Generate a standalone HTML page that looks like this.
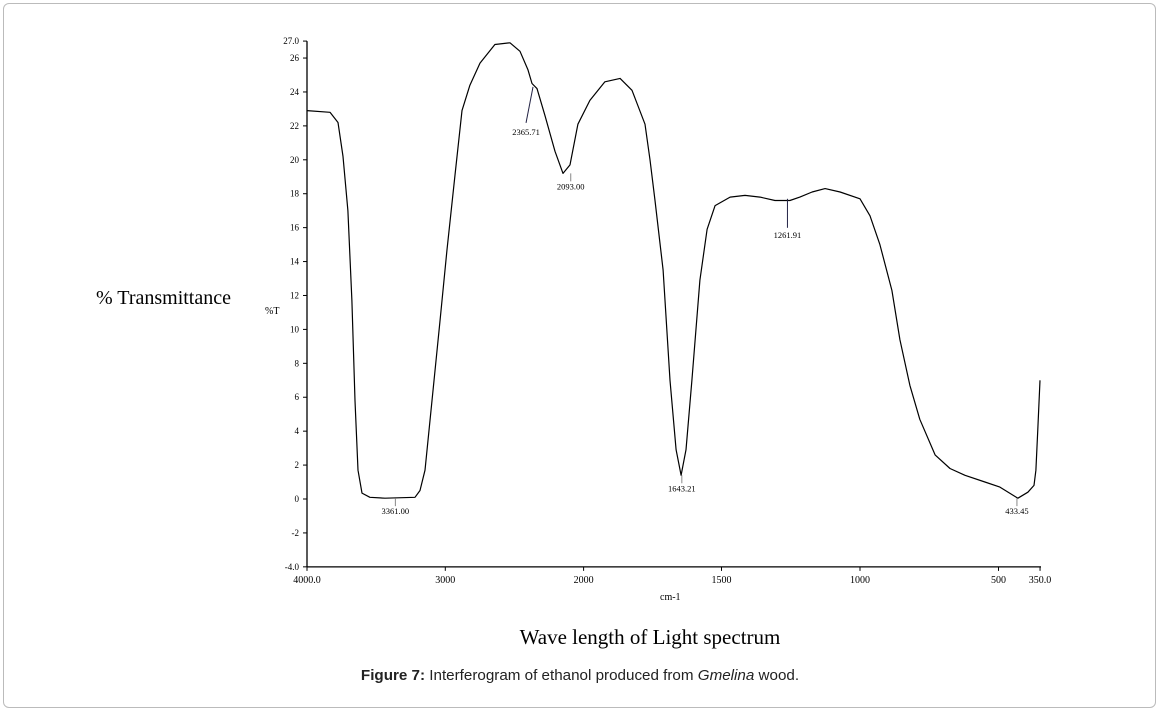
<!DOCTYPE html>
<html><head><meta charset="utf-8"><style>
html,body{margin:0;padding:0;background:#fff;}
#frame{position:absolute;left:3px;top:3px;width:1151px;height:703px;border:1px solid #bbb;border-radius:6px;}
svg{position:absolute;left:0;top:0;}
.cap{position:absolute;left:0;width:1160px;top:667px;text-align:center;font:15.2px "Liberation Sans",sans-serif;color:#222;}
</style></head><body>
<div id="frame"></div>
<svg id="chart" width="1160" height="714" font-family="Liberation Serif, serif">
<text x="96" y="304" font-size="20">% Transmittance</text>
<text x="265" y="314" font-size="10">%T</text>
<text x="660" y="600" font-size="10">cm-1</text>
<text x="650" y="644" font-size="21" text-anchor="middle">Wave length of Light spectrum</text>
<g id="axes"></g><g id="marks"></g>
</svg>
<div class="cap"><b>Figure 7:</b> Interferogram of ethanol produced from <i>Gmelina</i> wood.</div>
<script>
const wavenumbers=[4000,3834,3776,3740,3704,3675,3653,3631,3602,3545,3436,3219,3183,3147,3096,3038,2988,2930,2879,2822,2749,2641,2532,2460,2402,2373,2337,2279,2207,2149,2098,2041,1975,1921,1866,1823,1776,1758,1740,1711,1686,1664,1646,1628,1607,1578,1552,1523,1469,1415,1361,1307,1253,1217,1173,1126,1072,1000,964,928,885,856,820,784,729,675,621,549,495,430,394,372,365,358,350];
const transmittance=[22.9,22.8,22.2,20.2,17.0,11.7,5.8,1.7,0.35,0.1,0.05,0.1,0.5,1.7,5.8,10.5,14.7,19.1,22.9,24.4,25.7,26.8,26.9,26.4,25.3,24.5,24.2,22.6,20.5,19.2,19.7,22.1,23.5,24.6,24.8,24.1,22.1,20.0,17.6,13.5,7.0,2.9,1.4,2.9,7.0,12.9,15.9,17.3,17.8,17.9,17.8,17.6,17.6,17.8,18.1,18.3,18.1,17.7,16.7,15.0,12.3,9.4,6.7,4.7,2.6,1.8,1.4,1.0,0.7,0.05,0.4,0.8,1.7,4.1,7.0];
const yTicks=[27,26,24,22,20,18,16,14,12,10,8,6,4,2,0,-2,-4];
const yTickLabels=["27.0","26","24","22","20","18","16","14","12","10","8","6","4","2","0","-2","-4.0"];
const xTicks=[4000,3000,2000,1500,1000,500,350];
const xTickLabels=["4000.0","3000","2000","1500","1000","500","350.0"];
const peakWn=[2365.71,2093.00,3361.00,1643.21,1261.91,433.45];
const peakLabels=["2365.71","2093.00","3361.00","1643.21","1261.91","433.45"];
const peakT=[24.3,19.2,0.05,1.4,17.7,0.05];

function X(w){return w>=2000?307+(4000-w)*0.1383:583+(2000-w)*0.277;}
function Y(t){return 499-t*16.96;}
const NS="http://www.w3.org/2000/svg";
function mk(tag,attrs,parent,txt){const e=document.createElementNS(NS,tag);for(const k in attrs)e.setAttribute(k,attrs[k]);if(txt!=null)e.textContent=txt;parent.appendChild(e);return e;}
const ax=document.getElementById('axes'),mg=document.getElementById('marks');
let e=mk('line',{x1:307,y1:Y(27),x2:307,y2:Y(-4),stroke:'#000','stroke-width':1.3},ax);


e=mk('line',{x1:307,y1:Y(-4),x2:1041,y2:Y(-4),stroke:'#000','stroke-width':1.3},ax);


yTicks.forEach((t,i)=>{
  mk('line',{x1:303,y1:Y(t),x2:307,y2:Y(t),stroke:'#000'},ax);
  const l=mk('text',{x:299,y:Y(t)+3,'font-size':9,'text-anchor':'end'},ax,yTickLabels[i]);
  
  
});
xTicks.forEach((w,i)=>{
  mk('line',{x1:X(w),y1:Y(-4),x2:X(w),y2:Y(-4)+4,stroke:'#000'},ax);
  const l=mk('text',{x:X(w),y:Y(-4)+16,'font-size':10,'text-anchor':'middle'},ax,xTickLabels[i]);
  
  
});
const d=wavenumbers.map((w,i)=>(i?'L':'M')+X(w).toFixed(1)+','+Y(transmittance[i]).toFixed(1)).join(' ');
e=mk('path',{d:d,fill:'none',stroke:'#000','stroke-width':1.2,'stroke-linejoin':'round'},mg);


peakWn.forEach((w,i)=>{
  const x=X(w),y=Y(peakT[i]);
  let x2=x,y2=y+8,ty=y+16,col='#888';
  if(i===0){x2=x-7;y2=y+36;ty=y+48;col='#224';}
  if(i===4){y2=y+29;ty=y+39;col='#224';}
  mk('line',{x1:x,y1:y,x2:x2,y2:y2,stroke:col},mg);
  const l=mk('text',{x:x2,y:ty,'font-size':8.5,'text-anchor':'middle'},mg,peakLabels[i]);
  
  
});
</script>
</body></html>
